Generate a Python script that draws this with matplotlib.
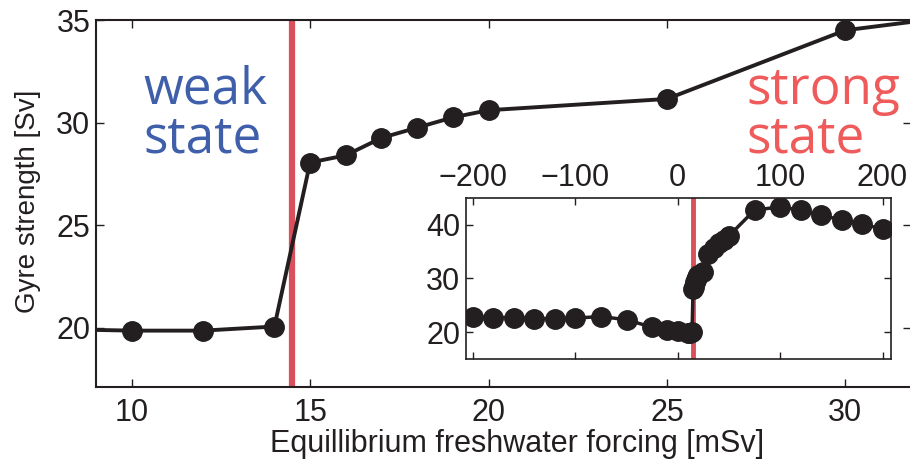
import numpy as np
import matplotlib.pyplot as plt

# forcing [mSv] and gyre strength [Sv]
forcing = [-200, -180, -160, -140, -120, -100, -75, -50, -25, -10, 0,
           10, 12, 14, 15, 16, 17, 18, 19, 20, 25, 30, 35, 40, 45, 50,
           75, 100, 120, 140, 160, 180, 200]
gyre = [22.8, 22.7, 22.7, 22.5, 22.5, 22.6, 22.9, 22.3, 20.9, 20.45, 20.2,
        19.85, 19.85, 20.05, 28.05, 28.4, 29.25, 29.75, 30.25, 30.6, 31.15,
        34.5, 35.6, 36.5, 37.1, 37.9, 42.7, 43.3, 42.7, 41.7, 40.9, 40.2, 39.1]
threshold = 14.5

main_x = [10, 15, 20, 25, 30]
main_y = [20, 25, 30, 35]
inset_x = [-200, -100, 0, 100, 200]
inset_y = [20, 30, 40]

plt.rcParams['font.family'] = ['Liberation Sans', 'DejaVu Sans']

fig = plt.figure(figsize=(9.1, 4.62), dpi=100)
ax = fig.add_axes([0.1055, 0.1623, 0.896, 0.7944])

ax.axvline(threshold, color='#d94f5c', lw=4.5, zorder=1)
ax.plot(forcing, gyre, '-o', color='#231f20', lw=2.8, ms=14, zorder=3)
ax.set_xlim(9.0, 31.85)
ax.set_ylim(17.1, 35)
ax.set_xticks(main_x)
ax.set_yticks(main_y)
ax.tick_params(direction='in', top=True, right=True, labelsize=22, length=6,
               width=1, colors='#231f20')
ax.tick_params(axis='x', pad=8)
ax.tick_params(axis='y', pad=4)
for s in ax.spines.values():
    s.set_linewidth(1.5)
    s.set_color('#231f20')
ax.set_xlabel('Equillibrium freshwater forcing [mSv]', fontsize=22,
              color='#231f20')
ax.xaxis.set_label_coords(0.516, -0.114)
ax.set_ylabel('Gyre strength [Sv]', fontsize=20, color='#231f20')
ax.yaxis.set_label_coords(-0.0675, 0.507)

ax.text(0.058, 0.605, 'weak\nstate', transform=ax.transAxes, fontsize=37,
        color='#3f5fab', family=['Open Sans', 'DejaVu Sans'], linespacing=0.95,
        va='bottom', ha='left')
ax.text(0.798, 0.605, 'strong\nstate', transform=ax.transAxes, fontsize=37,
        color='#ef5b5b', family=['Open Sans', 'DejaVu Sans'], linespacing=0.95,
        va='bottom', ha='left')

# inset with the full range
ins = fig.add_axes([0.5118, 0.223, 0.467, 0.349])
ins.axvline(threshold, color='#d94f5c', lw=3.5, zorder=1)
ins.plot(forcing, gyre, '-o', color='#231f20', lw=2.5, ms=14, zorder=3)
ins.set_xlim(-207, 208)
ins.set_ylim(15, 45)
ins.set_xticks(inset_x)
ins.set_yticks(inset_y)
ins.tick_params(direction='in', top=True, right=True, labeltop=True,
                labelbottom=False, labelsize=22, length=5, width=1,
                colors='#231f20')
ins.tick_params(axis='x', pad=3.5)
ins.tick_params(axis='y', pad=4)
for s in ins.spines.values():
    s.set_linewidth(1.2)
    s.set_color('#231f20')

fig.savefig('out.png', dpi=100)
